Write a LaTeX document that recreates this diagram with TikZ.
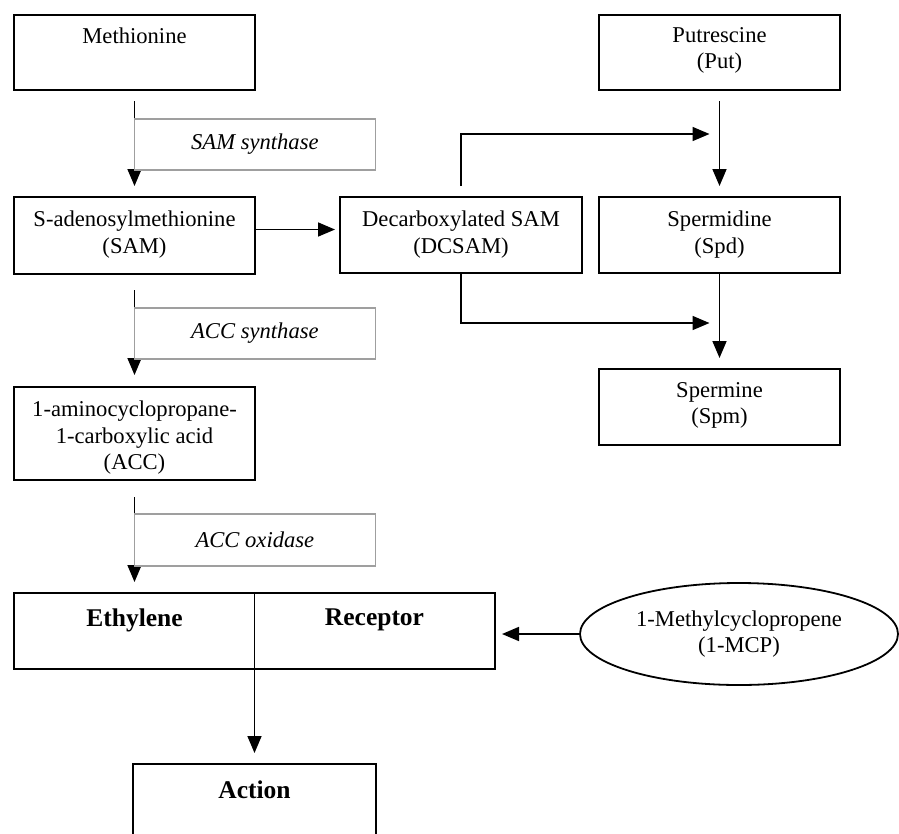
\documentclass[tikz,border=0pt]{standalone}
\usepackage{fontspec}
\setmainfont{Liberation Serif}
\usetikzlibrary{arrows.meta,shapes.geometric}
\begin{document}
\begin{tikzpicture}[x=1pt,y=-1pt,
  box/.style={draw, line width=2pt, inner sep=0pt, anchor=north west, minimum width=241pt},
  enz/.style={draw=gray!75, fill=white, line width=1.8pt, inner sep=0pt, anchor=north west,
     minimum width=241pt, minimum height=51pt, font=\fontsize{22.6}{26.5}\selectfont\itshape},
  txt/.style={inner sep=0pt, anchor=north, align=center, font=\fontsize{22.6}{26.5}\selectfont},
  btxt/.style={inner sep=0pt, anchor=north, align=center, font=\fontsize{25.5}{30}\selectfont\bfseries},
  arr/.style={-{Triangle[length=17pt,width=14pt]}, line width=1.7pt},
  ln/.style={line width=1.7pt}
]
\useasboundingbox (0,0) rectangle (899,833);
\clip (0,0) rectangle (899,833);
\fill[white] (0,0) rectangle (899,833);

% boxes
\node[box, minimum height=75pt] (met) at (13,14) {};
\node[box, minimum height=77pt] (sam) at (13,196) {};
\node[box, minimum height=93pt] (acc) at (13,386) {};
\node[box, minimum width=481pt, minimum height=76pt] (er) at (13,592) {};
\node[box, minimum height=95pt, draw=none] (act) at (133,764) {};
\node[box, minimum height=75pt] (put) at (598,14) {};
\node[box, minimum width=242pt, minimum height=76pt] (dcsam) at (339,196) {};
\node[box, minimum height=76pt] (spd) at (598,196) {};
\node[box, minimum height=76pt] (spm) at (598,368) {};
\node[draw, ellipse, line width=1.8pt, inner sep=0pt, minimum width=318pt, minimum height=102pt,
      align=center, font=\fontsize{22.6}{26}\selectfont] (mcp) at (739,634)
      {1-Methylcyclopropene\\(1-MCP)};

% open-bottom action box
\draw[line width=1.8pt] (act.south west) -- (act.north west) -- (act.north east) -- (act.south east);

% texts
\node[txt] (metT) at ([yshift=-14pt]met.north) {Methionine};
\node[txt] (samT) at ([yshift=-15pt]sam.north) {S-adenosylmethionine\\(SAM)};
\node[txt] (accT) at ([yshift=-15pt]acc.north) {1-aminocyclopropane-\\1-carboxylic acid\\(ACC)};
\node[txt] (putT) at ([yshift=-13pt]put.north) {Putrescine\\(Put)};
\node[txt] (dcsamT) at ([yshift=-15pt]dcsam.north) {Decarboxylated SAM\\(DCSAM)};
\node[txt] (spdT) at ([yshift=-15pt]spd.north) {Spermidine\\(Spd)};
\node[txt] (spmT) at ([yshift=-14pt]spm.north) {Spermine\\(Spm)};
\node[btxt] (ethT) at ([xshift=-120pt,yshift=-17pt]er.north) {Ethylene};
\node[btxt] (recT) at ([xshift=120pt,yshift=-17pt]er.north) {Receptor};
\node[btxt] (actT) at ([yshift=-17pt]act.north) {Action};

% arrows (left column)
\draw[arr, shorten <=10pt, shorten >=10pt] (met.south) -- (sam.north);
\draw[arr, shorten <=15pt, shorten >=11pt] (sam.south) -- (acc.north);
\draw[arr, shorten <=16pt, shorten >=10pt] (acc.south) -- (acc.south |- er.north);

% enzyme boxes drawn over the arrow shafts
\node[enz] (e1) at (133.5,118) {SAM synthase};
\node[enz] (e2) at (133.5,307) {ACC synthase};
\node[enz, minimum height=52pt] (e3) at (133.5,513) {ACC oxidase};

% SAM -> DCSAM
\draw[arr, shorten >=4pt] ([yshift=6pt]sam.east) -- ([yshift=6pt]sam.east -| dcsam.west);

% polyamines
\coordinate (j1) at (718.5,134);
\coordinate (j2) at (718.5,323);
\draw[arr, shorten <=10pt, shorten >=10pt] (put.south) -- (spd.north);
\draw[arr, shorten >=10pt] (spd.south) -- (spm.north);
\draw[arr, shorten <=10pt, shorten >=9pt] (dcsam.north) |- (j1);
\draw[arr, shorten >=9pt] (dcsam.south) |- (j2);

% ethylene / receptor
\draw[ln] (er.north) -- (er.south);
\draw[arr, shorten >=11pt] (er.south) -- (act.north);
\draw[arr, shorten >=6pt] (mcp.west) -- (er.east |- mcp.west);
\end{tikzpicture}
\end{document}
